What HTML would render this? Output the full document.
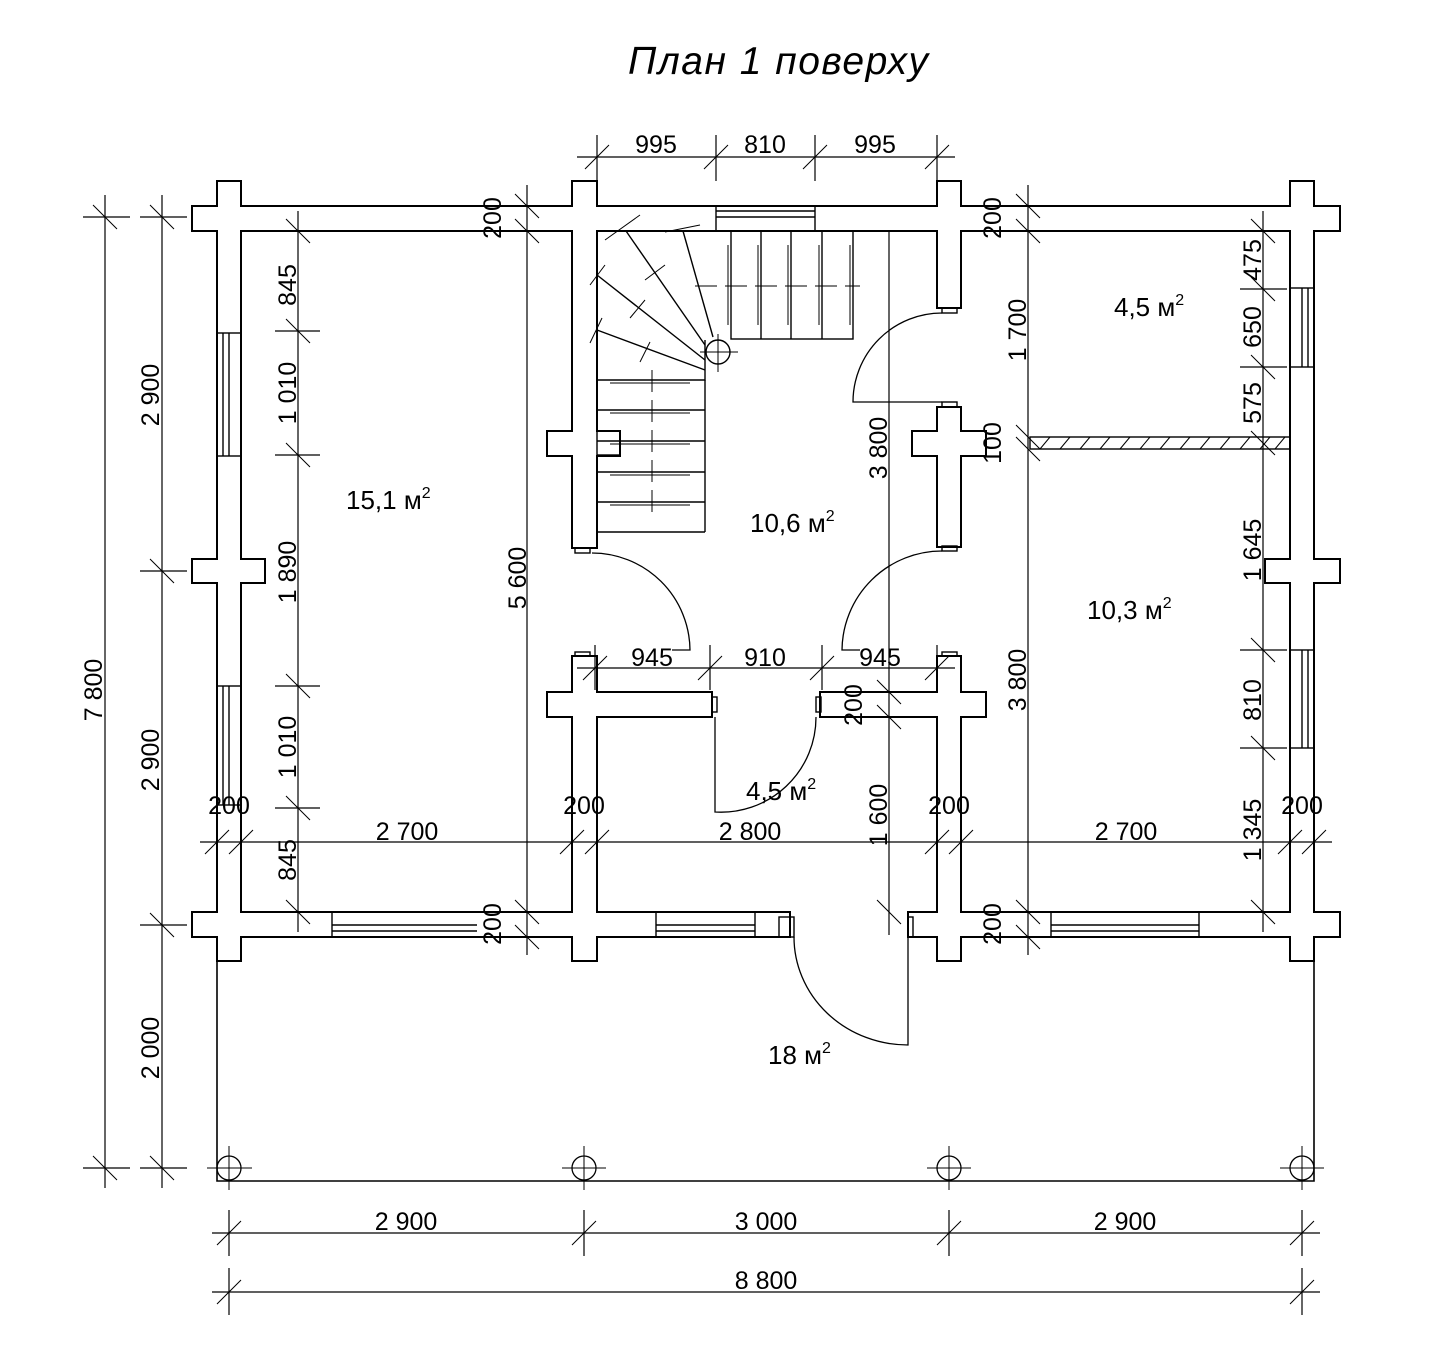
<!DOCTYPE html>
<html><head><meta charset="utf-8"><style>
html,body{margin:0;padding:0;background:#fff;}
svg{display:block;}
text{font-family:"Liberation Sans",Arial,sans-serif;fill:#000;}
</style></head><body>
<svg width="1441" height="1363" viewBox="0 0 1441 1363" xmlns="http://www.w3.org/2000/svg">
<rect width="1441" height="1363" fill="#fff"/>
<text x="628" y="74" font-size="39" font-style="italic" textLength="300">План 1 поверху</text>

<g fill="none" stroke="#000" stroke-width="1.6">
<polyline points="217,937 217,1181 1314,1181 1314,937"/>
</g>

<g fill="#fff" stroke="#000" stroke-width="2">
<rect x="192" y="206" width="1148" height="25"/>
<rect x="192" y="912" width="598" height="25"/>
<rect x="908" y="912" width="432" height="25"/>
<rect x="217" y="181" width="24" height="780"/>
<rect x="572" y="181" width="25" height="367"/>
<rect x="572" y="656" width="25" height="305"/>
<rect x="937" y="181" width="24" height="127"/>
<rect x="937" y="407" width="24" height="140"/>
<rect x="937" y="656" width="24" height="305"/>
<rect x="1290" y="181" width="24" height="780"/>
<rect x="192" y="559" width="73" height="24"/>
<rect x="1265" y="559" width="75" height="24"/>
<rect x="547" y="431" width="73" height="25"/>
<rect x="912" y="431" width="74" height="25"/>
<rect x="547" y="692" width="165" height="25"/>
<rect x="820" y="692" width="166" height="25"/>
</g>
<g fill="#fff" stroke="none">
<rect x="193" y="207" width="1146" height="23"/>
<rect x="193" y="913" width="596" height="23"/>
<rect x="909" y="913" width="430" height="23"/>
<rect x="218" y="182" width="22" height="778"/>
<rect x="573" y="182" width="23" height="365"/>
<rect x="573" y="657" width="23" height="303"/>
<rect x="938" y="182" width="22" height="125"/>
<rect x="938" y="408" width="22" height="138"/>
<rect x="938" y="657" width="22" height="303"/>
<rect x="1291" y="182" width="22" height="778"/>
<rect x="193" y="560" width="71" height="22"/>
<rect x="1266" y="560" width="73" height="22"/>
<rect x="548" y="432" width="71" height="23"/>
<rect x="913" y="432" width="72" height="23"/>
<rect x="548" y="693" width="163" height="23"/>
<rect x="821" y="693" width="164" height="23"/>
</g>

<g fill="none" stroke="#000" stroke-width="1.4">
<rect x="217" y="333" width="24" height="123"/><line x1="223" y1="333" x2="223" y2="456"/><line x1="229" y1="333" x2="229" y2="456"/>
<rect x="217" y="686" width="24" height="119"/><line x1="223" y1="686" x2="223" y2="805"/><line x1="229" y1="686" x2="229" y2="805"/>
<rect x="1290" y="288" width="24" height="79"/><line x1="1302" y1="288" x2="1302" y2="367"/><line x1="1308" y1="288" x2="1308" y2="367"/>
<rect x="1290" y="650" width="24" height="98"/><line x1="1302" y1="650" x2="1302" y2="748"/><line x1="1308" y1="650" x2="1308" y2="748"/>
<rect x="716" y="206" width="99" height="25"/><line x1="716" y1="211" x2="815" y2="211"/><line x1="716" y1="217" x2="815" y2="217"/>
<line x1="332" y1="912" x2="332" y2="937"/><line x1="332" y1="925" x2="477" y2="925"/><line x1="332" y1="931" x2="477" y2="931"/>
<rect x="656" y="912" width="99" height="25"/><line x1="656" y1="925" x2="755" y2="925"/><line x1="656" y1="931" x2="755" y2="931"/>
<rect x="1051" y="912" width="148" height="25"/><line x1="1051" y1="925" x2="1199" y2="925"/><line x1="1051" y1="931" x2="1199" y2="931"/>
<rect x="779" y="917" width="15" height="20"/><rect x="908" y="917" width="5" height="20"/>
<rect x="575" y="548" width="15" height="5"/><rect x="942" y="308" width="15" height="5"/><rect x="942" y="402" width="15" height="5"/><rect x="942" y="546" width="15" height="5"/>
<rect x="575" y="652" width="15" height="4"/><rect x="942" y="652" width="15" height="4"/>
<rect x="712" y="697" width="5" height="15"/><rect x="816" y="697" width="5" height="15"/>
<rect x="1030" y="437" width="260" height="12"/>
</g>
<g stroke="#000" stroke-width="1">
<line x1="1040" y1="449" x2="1050" y2="437"/><line x1="1060" y1="449" x2="1070" y2="437"/><line x1="1080" y1="449" x2="1090" y2="437"/><line x1="1100" y1="449" x2="1110" y2="437"/><line x1="1120" y1="449" x2="1130" y2="437"/><line x1="1140" y1="449" x2="1150" y2="437"/><line x1="1160" y1="449" x2="1170" y2="437"/><line x1="1180" y1="449" x2="1190" y2="437"/><line x1="1200" y1="449" x2="1210" y2="437"/><line x1="1220" y1="449" x2="1230" y2="437"/><line x1="1240" y1="449" x2="1250" y2="437"/><line x1="1260" y1="449" x2="1270" y2="437"/><line x1="1275" y1="449" x2="1285" y2="437"/>
</g>

<g fill="none" stroke="#000" stroke-width="1.4">
<rect x="731" y="231" width="122" height="108"/>
<line x1="761" y1="231" x2="761" y2="339"/><line x1="791" y1="231" x2="791" y2="339"/><line x1="822" y1="231" x2="822" y2="339"/>
<polyline points="597,380 705,380 705,340"/>
<line x1="597" y1="532" x2="705" y2="532"/><line x1="705" y1="380" x2="705" y2="532"/>
<line x1="597" y1="410" x2="705" y2="410"/><line x1="597" y1="441" x2="705" y2="441"/><line x1="597" y1="472" x2="705" y2="472"/><line x1="597" y1="502" x2="705" y2="502"/>
<rect x="597" y="431" width="23" height="24"/>
<line x1="626" y1="231" x2="705" y2="345"/><line x1="683" y1="231" x2="713" y2="337"/>
<line x1="597" y1="275" x2="705" y2="360"/><line x1="597" y1="330" x2="705" y2="370"/>
<circle cx="718" cy="352" r="12"/>
</g>
<g stroke="#000" stroke-width="1">
<line x1="695" y1="286" x2="860" y2="286" stroke-dasharray="22,8"/>
<line x1="652" y1="370" x2="652" y2="516" stroke-dasharray="22,8"/>
<line x1="728" y1="245" x2="728" y2="325"/><line x1="758" y1="245" x2="758" y2="325"/><line x1="788" y1="245" x2="788" y2="325"/><line x1="819" y1="245" x2="819" y2="325"/><line x1="850" y1="245" x2="850" y2="325"/>
<line x1="610" y1="383" x2="690" y2="383"/><line x1="610" y1="413" x2="690" y2="413"/><line x1="610" y1="444" x2="690" y2="444"/><line x1="610" y1="475" x2="690" y2="475"/><line x1="610" y1="505" x2="690" y2="505"/>
<line x1="700" y1="352" x2="738" y2="352"/><line x1="718" y1="334" x2="718" y2="372"/>
<line x1="605" y1="240" x2="640" y2="215"/><line x1="665" y1="232" x2="700" y2="225"/><line x1="590" y1="285" x2="605" y2="265"/><line x1="590" y1="343" x2="602" y2="318"/>
<line x1="645" y1="280" x2="665" y2="265"/><line x1="630" y1="318" x2="645" y2="300"/><line x1="640" y1="362" x2="650" y2="342"/>
</g>

<g fill="none" stroke="#000" stroke-width="1.3">
<path d="M942,313 A89,89 0 0 0 853,402 L942,402"/>
<path d="M942,551 A100,100 0 0 0 842,650 L860,650"/>
<path d="M592,553 A98,98 0 0 1 690,650 L672,650"/>
<path d="M816,717 A95,95 0 0 1 715,812 L715,717"/>
<path d="M794,937 A114,108 0 0 0 908,1045 L908,912"/>
</g>

<g fill="none" stroke="#000" stroke-width="1.3">
<circle cx="229" cy="1168" r="12"/><circle cx="584" cy="1168" r="12"/><circle cx="949" cy="1168" r="12"/><circle cx="1302" cy="1168" r="12"/>
</g>
<g stroke="#000" stroke-width="1">
<line x1="207" y1="1168" x2="252" y2="1168"/><line x1="229" y1="1146" x2="229" y2="1190"/>
<line x1="562" y1="1168" x2="606" y2="1168"/><line x1="584" y1="1146" x2="584" y2="1190"/>
<line x1="927" y1="1168" x2="971" y2="1168"/><line x1="949" y1="1146" x2="949" y2="1190"/>
<line x1="1280" y1="1168" x2="1324" y2="1168"/><line x1="1302" y1="1146" x2="1302" y2="1190"/>
</g>

<g stroke="#000" stroke-width="1.2" fill="none">
<line x1="105" y1="195" x2="105" y2="1188"/>
<line x1="162" y1="195" x2="162" y2="1188"/>
<line x1="298" y1="211" x2="298" y2="932"/>
<line x1="527" y1="185" x2="527" y2="955"/>
<line x1="889" y1="231" x2="889" y2="935"/>
<line x1="1028" y1="185" x2="1028" y2="955"/>
<line x1="1263" y1="211" x2="1263" y2="932"/>
<line x1="200" y1="842" x2="1332" y2="842"/>
<line x1="577" y1="157" x2="955" y2="157"/>
<line x1="577" y1="668" x2="955" y2="668"/>
<line x1="212" y1="1233" x2="1320" y2="1233"/>
<line x1="212" y1="1292" x2="1320" y2="1292"/>
<line x1="83" y1="217" x2="130" y2="217"/><line x1="140" y1="217" x2="187" y2="217"/>
<line x1="83" y1="1168" x2="130" y2="1168"/><line x1="140" y1="1168" x2="187" y2="1168"/>
<line x1="140" y1="571" x2="187" y2="571"/><line x1="140" y1="925" x2="187" y2="925"/>
<line x1="275" y1="331" x2="320" y2="331"/><line x1="275" y1="455" x2="320" y2="455"/><line x1="275" y1="686" x2="320" y2="686"/><line x1="275" y1="808" x2="320" y2="808"/>
<line x1="1240" y1="289" x2="1287" y2="289"/><line x1="1240" y1="367" x2="1287" y2="367"/><line x1="1240" y1="650" x2="1287" y2="650"/><line x1="1240" y1="748" x2="1287" y2="748"/>
<line x1="597" y1="135" x2="597" y2="181"/><line x1="716" y1="135" x2="716" y2="181"/><line x1="815" y1="135" x2="815" y2="181"/><line x1="937" y1="135" x2="937" y2="181"/>
<line x1="595" y1="645" x2="595" y2="690"/><line x1="710" y1="645" x2="710" y2="690"/><line x1="822" y1="645" x2="822" y2="690"/><line x1="937" y1="645" x2="937" y2="690"/>
<line x1="229" y1="1210" x2="229" y2="1256"/><line x1="584" y1="1210" x2="584" y2="1256"/><line x1="949" y1="1210" x2="949" y2="1256"/><line x1="1302" y1="1210" x2="1302" y2="1256"/>
<line x1="229" y1="1268" x2="229" y2="1315"/><line x1="1302" y1="1268" x2="1302" y2="1315"/>
<line x1="217" y1="818" x2="217" y2="865"/><line x1="241" y1="818" x2="241" y2="865"/>
<line x1="572" y1="818" x2="572" y2="865"/><line x1="597" y1="818" x2="597" y2="865"/>
<line x1="937" y1="818" x2="937" y2="865"/><line x1="961" y1="818" x2="961" y2="865"/>
<line x1="1290" y1="818" x2="1290" y2="865"/><line x1="1314" y1="818" x2="1314" y2="865"/>
</g>
<g stroke="#000" stroke-width="1">
<path d="M93,205 L117,229 M150,205 L174,229 M93,1156 L117,1180 M150,1156 L174,1180 M150,559 L174,583 M150,913 L174,937
M286,219 L310,243 M286,319 L310,343 M286,443 L310,467 M286,674 L310,698 M286,796 L310,820 M286,900 L310,924
M515,194 L539,218 M515,219 L539,243 M515,900 L539,924 M515,925 L539,949
M877,680 L901,704 M877,705 L901,729 M877,900 L901,924
M1016,194 L1040,218 M1016,219 L1040,243 M1016,425 L1040,449 M1016,437 L1040,461 M1016,900 L1040,924 M1016,925 L1040,949
M1251,219 L1275,243 M1251,277 L1275,301 M1251,355 L1275,379 M1251,431 L1275,455 M1251,638 L1275,662 M1251,736 L1275,760 M1251,900 L1275,924"/>
<path d="M205,854 L229,830 M229,854 L253,830 M560,854 L584,830 M585,854 L609,830 M925,854 L949,830 M949,854 L973,830 M1278,854 L1302,830 M1302,854 L1326,830
M585,169 L609,145 M704,169 L728,145 M803,169 L827,145 M925,169 L949,145
M583,680 L607,656 M698,680 L722,656 M810,680 L834,656 M925,680 L949,656
M217,1245 L241,1221 M572,1245 L596,1221 M937,1245 L961,1221 M1290,1245 L1314,1221
M217,1304 L241,1280 M1290,1304 L1314,1280"/>
</g>

<g font-size="25" text-anchor="middle">
<text x="656" y="153">995</text><text x="765" y="153">810</text><text x="875" y="153">995</text>
<text x="652" y="666">945</text><text x="765" y="666">910</text><text x="880" y="666">945</text>
<text x="229" y="814">200</text><text x="407" y="840">2 700</text><text x="584" y="814">200</text>
<text x="750" y="840">2 800</text><text x="949" y="814">200</text><text x="1126" y="840">2 700</text><text x="1302" y="814">200</text>
<text x="406" y="1230">2 900</text><text x="766" y="1230">3 000</text><text x="1125" y="1230">2 900</text>
<text x="766" y="1289">8 800</text>
</g>
<g font-size="25" text-anchor="middle">
<text transform="translate(102,690) rotate(-90)">7 800</text>
<text transform="translate(159,395) rotate(-90)">2 900</text>
<text transform="translate(159,760) rotate(-90)">2 900</text>
<text transform="translate(159,1048) rotate(-90)">2 000</text>
<text transform="translate(296,285) rotate(-90)">845</text>
<text transform="translate(296,393) rotate(-90)">1 010</text>
<text transform="translate(296,572) rotate(-90)">1 890</text>
<text transform="translate(296,747) rotate(-90)">1 010</text>
<text transform="translate(296,860) rotate(-90)">845</text>
<text transform="translate(501,218) rotate(-90)">200</text>
<text transform="translate(526,578) rotate(-90)">5 600</text>
<text transform="translate(501,924) rotate(-90)">200</text>
<text transform="translate(887,448) rotate(-90)">3 800</text>
<text transform="translate(862,705) rotate(-90)">200</text>
<text transform="translate(887,815) rotate(-90)">1 600</text>
<text transform="translate(1001,218) rotate(-90)">200</text>
<text transform="translate(1026,330) rotate(-90)">1 700</text>
<text transform="translate(1001,443) rotate(-90)">100</text>
<text transform="translate(1026,680) rotate(-90)">3 800</text>
<text transform="translate(1001,924) rotate(-90)">200</text>
<text transform="translate(1261,260) rotate(-90)">475</text>
<text transform="translate(1261,327) rotate(-90)">650</text>
<text transform="translate(1261,403) rotate(-90)">575</text>
<text transform="translate(1261,550) rotate(-90)">1 645</text>
<text transform="translate(1261,700) rotate(-90)">810</text>
<text transform="translate(1261,830) rotate(-90)">1 345</text>
</g>

<g font-size="26">
<text x="346" y="509">15,1 м<tspan font-size="16" dy="-11">2</tspan></text>
<text x="750" y="532">10,6 м<tspan font-size="16" dy="-11">2</tspan></text>
<text x="1114" y="316">4,5 м<tspan font-size="16" dy="-11">2</tspan></text>
<text x="1087" y="619">10,3 м<tspan font-size="16" dy="-11">2</tspan></text>
<text x="746" y="800">4,5 м<tspan font-size="16" dy="-11">2</tspan></text>
<text x="768" y="1064">18 м<tspan font-size="16" dy="-11">2</tspan></text>
</g>
</svg>
</body></html>
